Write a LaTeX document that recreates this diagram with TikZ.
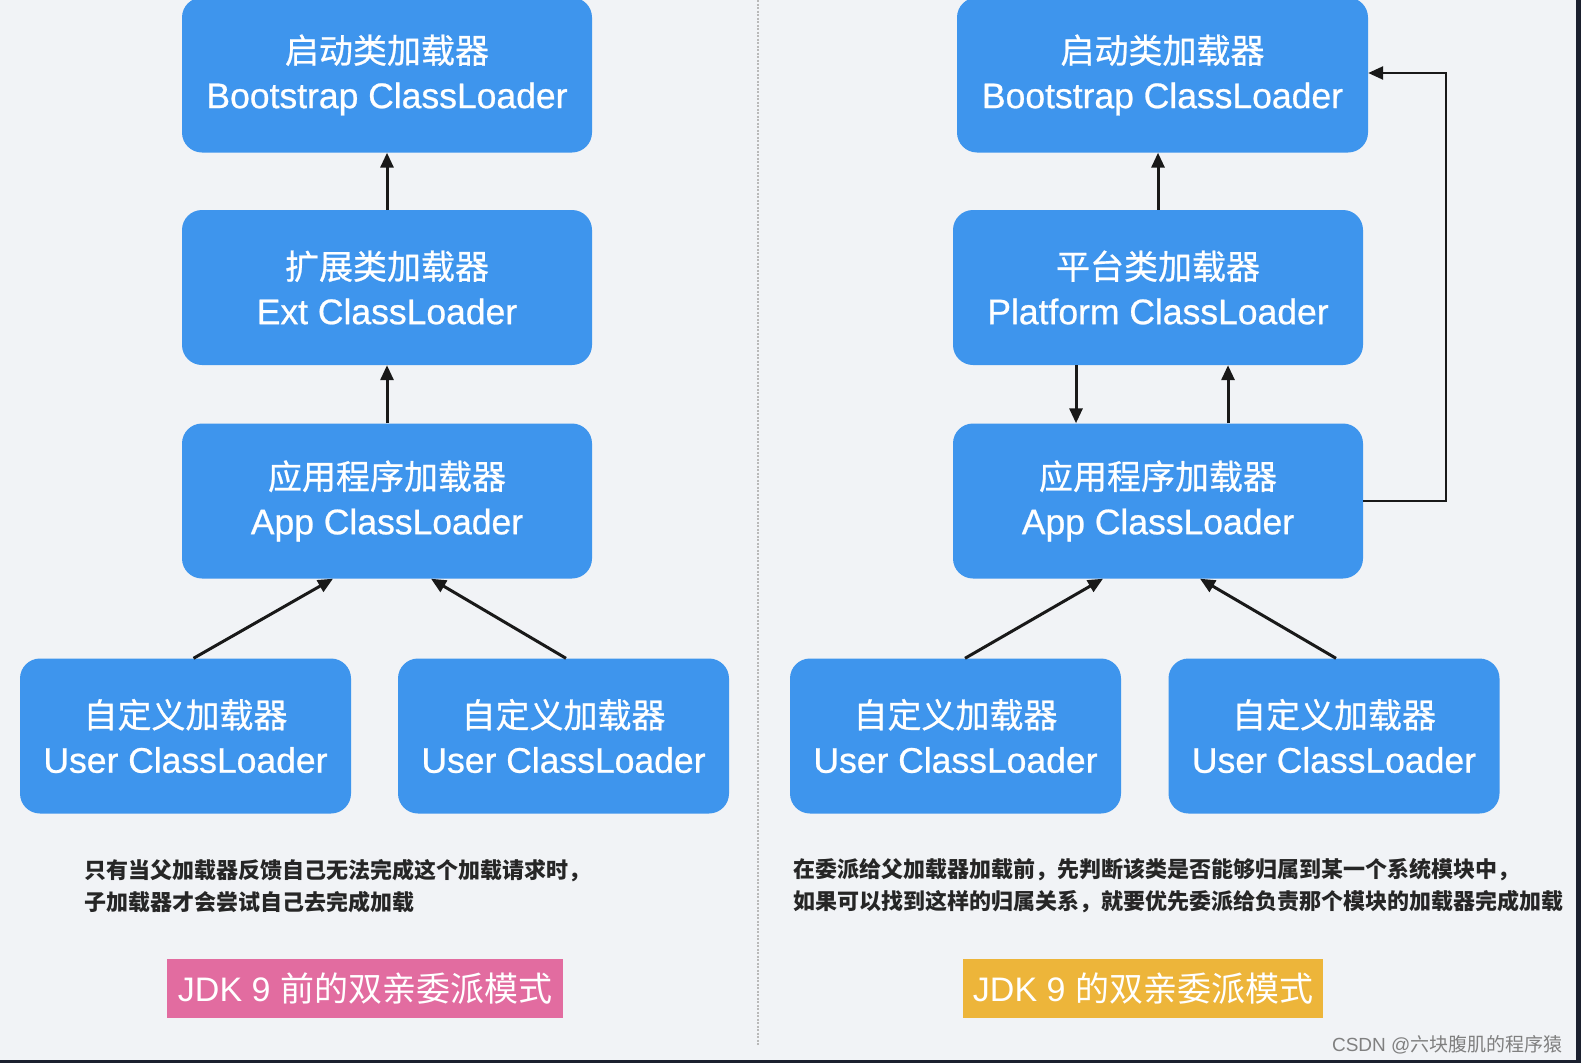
\documentclass[tikz,border=0pt]{standalone}
\usepackage{fontspec}
\setmainfont{Liberation Sans}
\newfontfamily\cjk{Noto Sans CJK SC}
\newfontfamily\boxsans[FakeBold=0.7]{Liberation Sans}
\newfontfamily\cjkm[FakeBold=0.7]{Noto Sans CJK SC}
\usetikzlibrary{arrows.meta,positioning,calc}
\definecolor{ldblue}{RGB}{62,149,237}
\definecolor{tagpink}{RGB}{226,108,160}
\definecolor{tagyellow}{RGB}{237,181,58}
\definecolor{bgpaper}{RGB}{241,243,246}
\definecolor{scrframe}{RGB}{27,32,46}
\newcommand{\cl}[2]{{\cjkm\fontsize{34}{45}\selectfont #1}\\#2}
\tikzset{
  box/.style={fill=ldblue,rounded corners=20pt,minimum width=410pt,minimum height=155pt,inner sep=0pt,text=white,align=center,font=\boxsans\fontsize{35.5}{45}\selectfont},
  ubox/.style={box,minimum width=331pt},
  arr/.style={-{Triangle[length=15pt,width=13pt]},line width=3pt,black!90},
  note/.style={anchor=west,align=left,inner sep=0pt,text=black!85,font=\cjk\bfseries\fontsize{22}{32}\selectfont},
  tag/.style={minimum height=59pt,inner sep=0pt,text=white,font=\fontsize{34}{34}\selectfont},
}

\begin{document}
\begin{tikzpicture}[x=1pt,y=1pt]
 \fill[bgpaper] (0,0) rectangle (1581,-1063);
 \useasboundingbox (0,0) rectangle (1581,-1063);
 % before JDK 9
 \node[box] (bootL) at (387,-75){\cl{启动类加载器}{Bootstrap ClassLoader}};
 \node[box] (extL) at (387,-287.5){\cl{扩展类加载器}{Ext ClassLoader}};
 \node[box] (appL) at (387,-501){\cl{应用程序加载器}{App ClassLoader}};
 \node[ubox] (userL1) at (185.5,-736){\cl{自定义加载器}{User ClassLoader}};
 \node[ubox] (userL2) at (563.5,-736){\cl{自定义加载器}{User ClassLoader}};
 \draw[arr](extL)--(bootL); \draw[arr](appL)--(extL);
 \draw[arr]([xshift=8pt]userL1.north)--([xshift=-54pt]appL.south);
 \draw[arr]([xshift=2.5pt]userL2.north)--([xshift=44pt]appL.south);
 \node[note] (noteL) at (84,-886){只有当父加载器反馈自己无法完成这个加载请求时，\\子加载器才会尝试自己去完成加载};
 \node[tag,fill=tagpink,minimum width=396pt] (tagL) at (365,-988.5){JDK 9 {\cjk 前的双亲委派模式}};
 % divider
 \draw[gray!55,line width=1.5pt,dash pattern=on 2pt off 1.5pt] (758,0)--(758,-1046);
 % JDK 9
 \node[box,minimum width=411pt] (bootR) at (1162.5,-75){\cl{启动类加载器}{Bootstrap ClassLoader}};
 \node[box] (platR) at (1158,-287.5){\cl{平台类加载器}{Platform ClassLoader}};
 \node[box] (appR) at (1158,-501){\cl{应用程序加载器}{App ClassLoader}};
 \node[ubox] (userR1) at (955.5,-736){\cl{自定义加载器}{User ClassLoader}};
 \node[ubox] (userR2) at (1334,-736){\cl{自定义加载器}{User ClassLoader}};
 \draw[arr](platR.north)--(platR.north |- bootR.south);
 \draw[arr]([xshift=-82pt]platR.south)--([xshift=-82pt]platR.south |- appR.north);
 \draw[arr]([xshift=70pt]appR.north)--([xshift=70pt]appR.north |- platR.south);
 \draw[arr]([xshift=9.5pt]userR1.north)--([xshift=-55pt]appR.south);
 \draw[arr]([xshift=2pt]userR2.north)--([xshift=42pt]appR.south);
 \coordinate (loopTop) at (1446,-73);
 \draw[arr,line width=2.5pt](appR.east)-|(loopTop)--(loopTop -| bootR.east);
 \node[note] (noteR) at (793,-886){在委派给父加载器加载前，先判断该类是否能够归属到某一个系统模块中，\\如果可以找到这样的归属关系，就要优先委派给负责那个模块的加载器完成加载};
 \node[tag,fill=tagyellow,minimum width=360pt] (tagR) at (1143,-988.5){JDK 9 {\cjk 的双亲委派模式}};
 \node[anchor=east,text=gray,font=\fontsize{19}{19}\selectfont] (mark) at (1566,-1045){CSDN @{\cjk 六块腹肌的程序猿}};
 % screen edge
 \fill[scrframe] (0,-1060) rectangle (1581,-1063); \fill[scrframe] (1576,0) rectangle (1581,-1063);
\end{tikzpicture}
\end{document}
